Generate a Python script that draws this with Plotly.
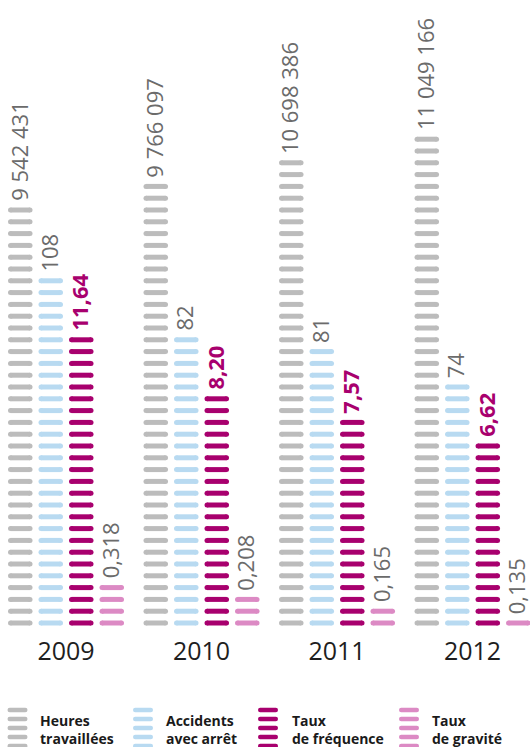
import plotly.graph_objects as go

# ---------------- data ----------------
years = ["2009", "2010", "2011", "2012"]
series_names = ["Heures<br>travaillées", "Accidents<br>avec arrêt", "Taux<br>de fréquence", "Taux<br>de gravité"]

heures = [9542431, 9766097, 10698386, 11049166]
accidents = [108, 82, 81, 74]
frequence = [11.64, 8.20, 7.57, 6.62]
gravite = [0.318, 0.208, 0.165, 0.135]

# bar heights, in number of dashes
heures_dashes = [36, 38, 40, 42]
accidents_dashes = [30, 25, 24, 21]
frequence_dashes = [25, 20, 18, 16]
gravite_dashes = [4, 3, 2, 1]

# ---------------- styles ----------------
W, H = 530, 747
PLOT_BOTTOM = 632          # px from top where the plot area ends
DASH_PITCH = 11.8          # px per dash unit on the y axis
X_RANGE = [-0.487, 3.424]
PX_PER_X = W / (X_RANGE[1] - X_RANGE[0])
SLOT = 30.5 / PX_PER_X     # spacing of bars inside a group (data units)
DASH_LEN = 24.5
DASH_T = 5.0

colors = ["#bcbcbc", "#b8daf1", "#a8006e", "#dc8ac4"]
label_colors = ["#6b6b6b", "#6b6b6b", "#a8006e", "#6b6b6b"]
label_weights = [400, 400, 700, 400]
FONT = "Open Sans"


def fmt_heures(v):
    return f"{v:,}".replace(",", " ")


def fmt_dec(nd):
    def f(v):
        return f"{v:.{nd}f}".replace(".", ",")
    return f


series = [
    (heures, heures_dashes, fmt_heures),
    (accidents, accidents_dashes, fmt_dec(0)),
    (frequence, frequence_dashes, fmt_dec(2)),
    (gravite, gravite_dashes, fmt_dec(3)),
]

y_min = 0.5 - 9.0 / DASH_PITCH
y_max = y_min + PLOT_BOTTOM / DASH_PITCH

fig = go.Figure()
annotations = []
cap_dx = ((DASH_LEN - DASH_T) / 2) / PX_PER_X

for j, (vals, counts, fmt) in enumerate(series):
    xs, ys = [], []
    for i, n in enumerate(counts):
        xc = i + (j - 1.5) * SLOT
        for k in range(n):
            xs.append(xc)
            ys.append(k + 0.5)
        annotations.append(dict(
            x=xc, y=n - 0.5, xref="x", yref="y",
            text=fmt(vals[i]), showarrow=False, textangle=-90,
            xanchor="center", yanchor="bottom", yshift=7, xshift=-2,
            font=dict(family=FONT, size=22, color=label_colors[j], weight=label_weights[j]),
        ))
    # dash body
    fig.add_trace(go.Scatter(
        x=xs, y=ys, mode="markers", hoverinfo="skip", showlegend=False,
        marker=dict(symbol="line-ew", size=(DASH_LEN - DASH_T) / 1.4,
                    color=colors[j], line=dict(color=colors[j], width=DASH_T)),
    ))
    # rounded caps
    cx = [x - cap_dx for x in xs] + [x + cap_dx for x in xs]
    fig.add_trace(go.Scatter(
        x=cx, y=ys + ys, mode="markers", hoverinfo="skip", showlegend=False,
        marker=dict(symbol="circle", size=DASH_T, color=colors[j], line=dict(width=0)),
    ))

# ---------------- legend (drawn) ----------------
shapes = []
leg_icon_x = [17.5, 143, 268, 409]
leg_text_x = [38, 164, 290, 430]
leg_dash_y = [710, 719, 728, 737, 746]
lw, lt = 20.0, 4.4
r = lt / 2
hl = lw / 2
path = (f"M{-hl + r},{-r} L{hl - r},{-r} Q{hl},{-r} {hl},0 Q{hl},{r} {hl - r},{r} "
        f"L{-hl + r},{r} Q{-hl},{r} {-hl},0 Q{-hl},{-r} {-hl + r},{-r} Z")
for j in range(4):
    for py in leg_dash_y:
        shapes.append(dict(
            type="path", xref="paper", yref="paper",
            xsizemode="pixel", ysizemode="pixel",
            xanchor=leg_icon_x[j] / W, yanchor=(PLOT_BOTTOM - py) / PLOT_BOTTOM,
            path=path, fillcolor=colors[j], line=dict(width=0),
        ))
    annotations.append(dict(
        x=leg_text_x[j] / W, y=(PLOT_BOTTOM - 729) / PLOT_BOTTOM,
        xref="paper", yref="paper", xanchor="left", yanchor="middle",
        text=series_names[j], showarrow=False, align="left",
        font=dict(family=FONT, size=14, color="#1a1a1a", weight=700),
    ))

fig.update_layout(
    width=W, height=H,
    margin=dict(l=0, r=0, t=0, b=H - PLOT_BOTTOM, pad=0),
    paper_bgcolor="white", plot_bgcolor="white",
    xaxis=dict(range=X_RANGE, showgrid=False, zeroline=False, showline=False,
               tickvals=[0, 1, 2, 3], ticktext=years, ticks="",
               ticklabelstandoff=2,
               tickfont=dict(family=FONT, size=25, color="#1e1e1e"),
               fixedrange=True),
    yaxis=dict(range=[y_min, y_max], showgrid=False, zeroline=False, showline=False,
               showticklabels=False, fixedrange=True),
    annotations=annotations, shapes=shapes,
    showlegend=False,
)

fig.write_html("out.html")
